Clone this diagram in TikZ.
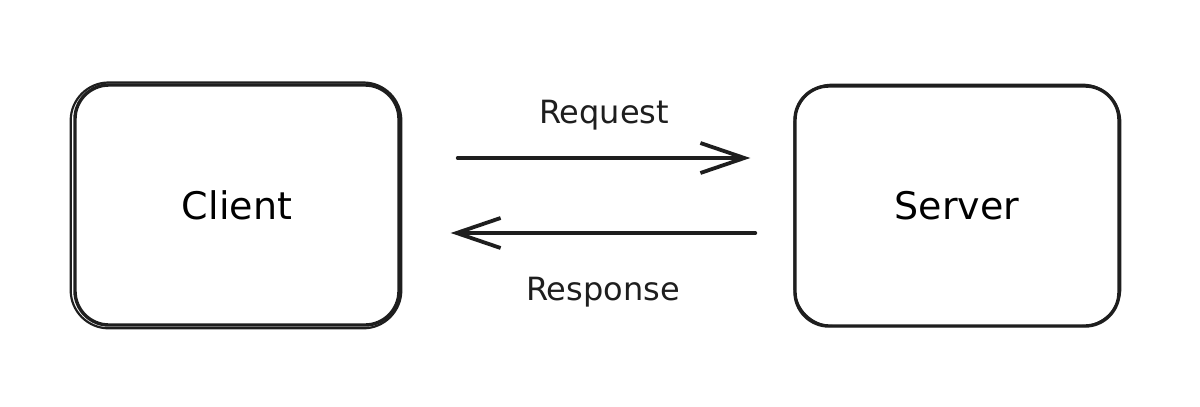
\documentclass[tikz,border=0pt]{standalone}
\usepackage{fontspec}
\setmainfont{DejaVu Sans}
\usetikzlibrary{arrows.meta, positioning}
\definecolor{ink}{HTML}{1E1E1E}

\tikzset{
    box/.style={draw=ink, line width=1.7pt, rounded corners=17pt,
        minimum width=162pt, minimum height=120pt, font=\fontsize{19}{22}\selectfont},
    sketchline/.style={draw=ink, line width=1.1pt, rounded corners=19pt},
    flow/.style={draw=ink, line width=1.9pt, line cap=round,
        -{Straight Barb[length=22pt, width=15pt, line width=1.9pt]}},
    lbl/.style={inner sep=0pt, text=ink, font=\fontsize{16}{19}\selectfont}
}

\begin{document}
\begin{tikzpicture}[x=0.5pt, y=-0.5pt]
        \useasboundingbox (0,0) rectangle (1200,407);

        \node[box] (client) at (237,205) {Client};
        \node[box] (server) at (957,206) {Server};

        % second pencil pass round the boxes
        \draw[sketchline]
            ([shift={(-1.3pt,0.4pt)}]client.north west) rectangle ([shift={(0.3pt,-0.8pt)}]client.south east)
            ([shift={(0.6pt,-0.2pt)}]server.north west) rectangle ([shift={(-0.2pt,0.8pt)}]server.south east)
            ;

        \draw[flow] ([shift={(28.5pt,23.5pt)}]client.east) -- ([shift={(-21.5pt,24pt)}]server.west)
            node[lbl, midway, above=13pt] (req) {Request};
        \draw[flow] ([shift={(-19pt,-13.5pt)}]server.west) -- ([shift={(25pt,-14pt)}]client.east)
            node[lbl, midway, below=21pt] (resp) {Response};
    \end{tikzpicture}
\end{document}
